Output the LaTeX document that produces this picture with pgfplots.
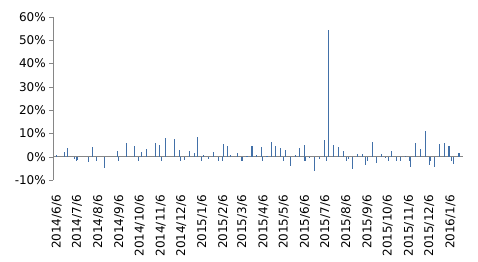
\documentclass[border=0pt]{standalone}
\usepackage{fontspec}
\setmainfont{DejaVu Sans}
\usepackage{pgfplots}
\pgfplotsset{compat=1.18}
\definecolor{barblue}{RGB}{66,112,168}
\definecolor{axgray}{RGB}{134,134,134}
\begin{document}
\begin{tikzpicture}
\useasboundingbox (-53.3bp,-82bp) rectangle (424.7bp,180bp);
\begin{axis}[
  at={(0,0)}, anchor=south west,
  scale only axis, width=410bp, height=163bp,
  xmin=-5, xmax=598, ymin=-10, ymax=60,
  ytick={-10,0,10,20,30,40,50,60},
  yticklabel={\pgfmathprintnumber{\tick}\%},
  /pgf/number format/assume math mode=true,
  xtick={0,30,61,92,122,153,183,214,245,273,304,334,365,395,426,457,487,518,548,579},
  xticklabels={2014/6/6,2014/7/6,2014/8/6,2014/9/6,2014/10/6,2014/11/6,2014/12/6,2015/1/6,2015/2/6,2015/3/6,2015/4/6,2015/5/6,2015/6/6,2015/7/6,2015/8/6,2015/9/6,2015/10/6,2015/11/6,2015/12/6,2016/1/6},
  axis y line*=left, axis x line*=bottom,
  y axis line style={draw=axgray,-},
  x axis line style={draw=none},
  ytick style={draw=axgray},
  xtick style={draw=none},
  tick align=outside, major tick length=4bp,
  tick label style={font=\fontsize{12bp}{14bp}\selectfont, text=black},
  xticklabel style={rotate=90, anchor=east},
  xticklabel shift=7.5bp,
  extra y ticks={0}, extra y tick labels={},
  extra y tick style={grid=major, major grid style={draw=axgray, line width=0.8pt}, tick style={draw=none}},
  clip=false,
]
\addplot[ycomb, draw=barblue, line width=1.3bp, mark=none] coordinates {
(0,0.8) (11.5,1.9) (16.2,3.6) (25.7,-1.0) (28.7,-1.7) (30.6,-1.5) (47.1,-2.1) (52.6,4.0) (58.4,-1.8) (70.3,-5.0)
(89.0,2.5) (90.4,-2.0) (102.9,5.7) (114.4,4.7) (120.3,-1.9) (125.0,2.2) (132.4,3.4) (145.3,6.0) (151.5,5.2) (153.7,-1.8)
(160.0,8.0) (173.2,7.6) (180.6,3.0) (182.4,-2.0) (188.2,-1.4) (195.6,2.6) (202.9,1.7) (207.4,8.6) (213.2,-2.0) (216.2,0.6)
(223.2,-1.1) (230.6,2.1) (237.5,-1.7) (243.4,-2.0) (245.3,5.6) (251.5,4.4) (255.1,0.9) (266.2,1.6) (272.4,-2.0) (279.9,0.4)
(287.1,4.4) (293.8,0.9) (300.7,4.0) (302.2,-2.0) (309.1,0.4) (315.9,6.5) (321.8,4.8) (329.1,3.9) (333.5,-2.0) (336.5,3.0)
(343.8,-3.8) (351.0,0.6) (357.1,3.6) (364.0,5.2) (365.4,-2.0) (371.8,-0.6) (379.1,-6.3) (386.5,-1.0) (393.8,7.0) (396.3,-2.0)
(399.7,54.3) (407.1,5.2) (414.4,4.0) (421.8,2.6) (426.2,-2.0) (429.1,-1.0) (435.0,-5.4) (442.4,1.3) (449.7,1.3) (454.1,-3.7)
(456.6,-2.0) (464.4,6.5) (470.3,-2.5) (477.6,1.2) (483.5,-0.7) (487.9,-2.0) (492.9,2.6) (499.3,-2.0) (505.6,-2.0) (512.9,0.4)
(519.1,-2.0) (520.6,-4.5) (528.2,6.0) (535.0,3.5) (542.4,11.0) (548.2,-3.5) (550.0,-2.0) (555.6,-4.5) (562.9,5.5) (570.3,6.0)
(576.8,4.5) (580.6,-2.0) (583.5,-3.0) (591.5,1.5)
};
\end{axis}
\end{tikzpicture}
\end{document}
